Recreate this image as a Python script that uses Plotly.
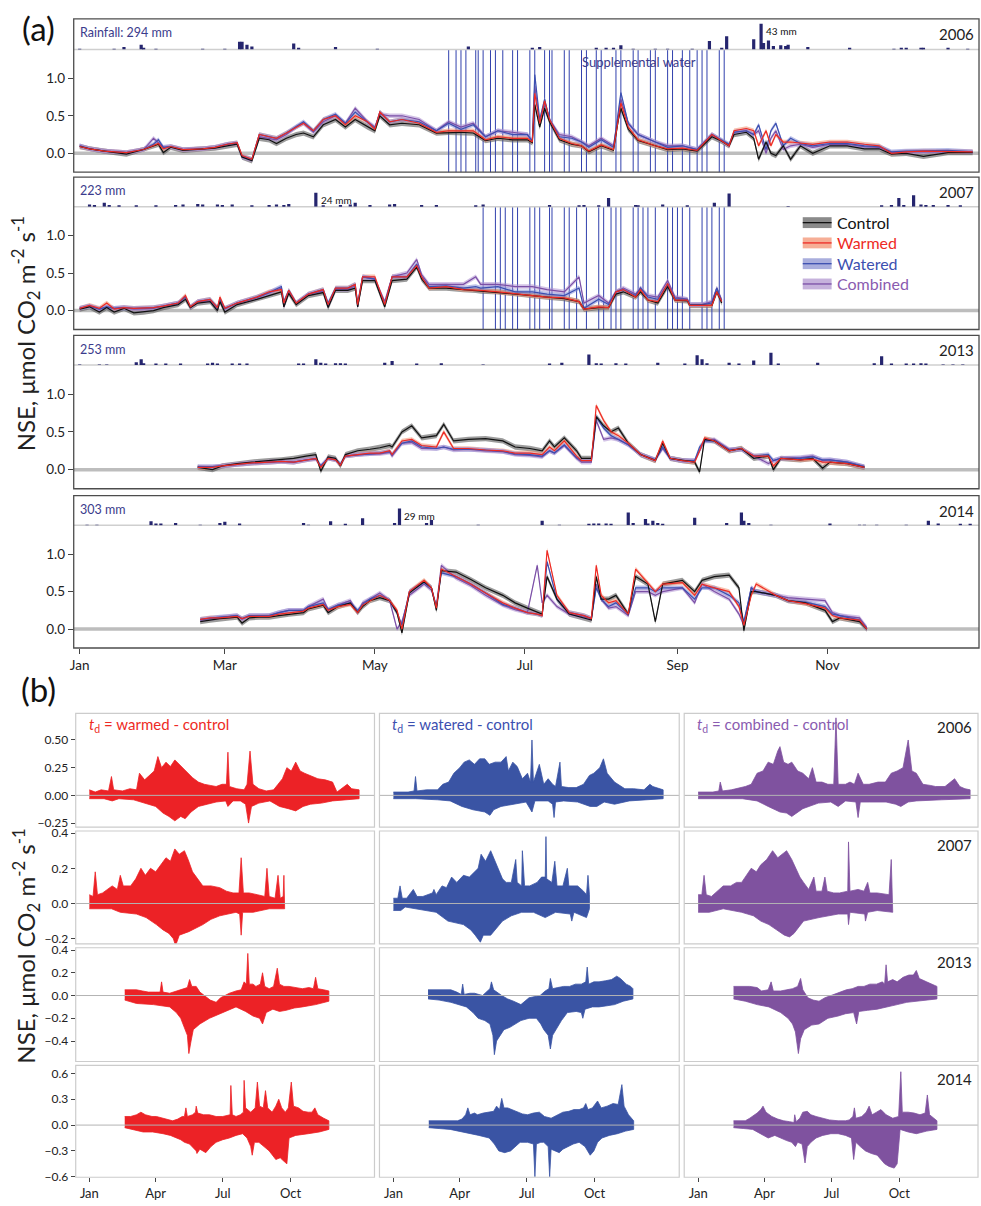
import plotly.graph_objects as go

# ======================= DATA =======================
YEARS = ["2006", "2007", "2013", "2014"]
RAIN_TOTAL_LABELS = ["Rainfall: 294 mm", "223 mm", "253 mm", "303 mm"]
LABEL_PEAK = [True, True, False, True]
MONTH_TICKS_A = [0, 59, 120, 181, 243, 304]
MONTH_LABELS_A = ["Jan", "Mar", "May", "Jul", "Sep", "Nov"]
MONTH_TICKS_B = [0, 90, 181, 273]
MONTH_LABELS_B = ["Jan", "Apr", "Jul", "Oct"]
TREATMENTS = ["Control", "Warmed", "Watered", "Combined"]
# standard-error half widths (NSE units) read from ribbon thickness
SE_CONTROL = 0.035
SE_WARMED = 0.03
SE_WATERED = 0.03
SE_COMBINED = 0.03

# ---- panel (a): day-of-year and NSE by treatment ----
DAYS_2006 = [0, 4, 10, 19, 26, 30, 32, 34, 37, 42, 50, 55, 60, 64, 66, 70, 73, 77, 80, 84, 88, 91, 95, 99, 104,
             108, 112, 117, 120, 122, 126, 131, 138, 145, 150, 155, 160, 165, 170, 176, 182, 184, 185, 187, 189,
             191, 195, 200, 204, 207, 212, 217, 219, 220, 223, 227, 234, 239, 245, 251, 257, 261, 264, 266, 271,
             274, 276, 279, 281, 283, 286, 289, 293, 298, 305, 312, 319, 325, 330, 336, 343, 353, 363]
CONTROL_2006 = [0.09, 0.06, 0.03, -0.01, 0.05, 0.10, 0.12, 0.01, 0.08, 0.04, 0.06, 0.07, 0.10, 0.12, -0.05,
                -0.10, 0.20, 0.18, 0.13, 0.20, 0.25, 0.27, 0.22, 0.38, 0.45, 0.35, 0.45, 0.35, 0.30, 0.50,
                0.38, 0.40, 0.38, 0.27, 0.28, 0.28, 0.27, 0.17, 0.20, 0.18, 0.18, 0.14, 0.65, 0.35, 0.60,
                0.42, 0.18, 0.12, 0.10, 0.02, 0.10, 0.04, 0.45, 0.60, 0.32, 0.17, 0.10, 0.05, 0.06, 0.03,
                0.22, 0.16, 0.10, 0.25, 0.28, 0.20, -0.08, 0.15, 0.00, -0.03, 0.10, -0.08, 0.10, 0.00, 0.10,
                0.10, 0.06, 0.06, -0.01, 0.00, -0.04, 0.01, 0.01]
WARMED_2006 = [0.09, 0.06, 0.03, 0.01, 0.05, 0.11, 0.13, 0.06, 0.09, 0.05, 0.06, 0.08, 0.12, 0.14, -0.03,
               -0.08, 0.25, 0.22, 0.20, 0.27, 0.35, 0.40, 0.30, 0.45, 0.50, 0.38, 0.50, 0.42, 0.32, 0.55,
               0.42, 0.45, 0.40, 0.28, 0.30, 0.30, 0.30, 0.18, 0.22, 0.20, 0.20, 0.15, 0.80, 0.40, 0.70,
               0.45, 0.20, 0.13, 0.10, 0.03, 0.11, 0.05, 0.50, 0.67, 0.35, 0.18, 0.10, 0.06, 0.07, 0.04,
               0.25, 0.17, 0.10, 0.30, 0.33, 0.30, 0.10, 0.30, 0.10, 0.25, 0.15, 0.15, 0.14, 0.12, 0.15,
               0.15, 0.12, 0.10, 0.00, 0.02, 0.03, 0.03, 0.02]
WATERED_2006 = [0.10, 0.06, 0.03, 0.01, 0.05, 0.12, 0.18, 0.08, 0.09, 0.05, 0.06, 0.08, 0.12, 0.14, -0.04,
                -0.08, 0.25, 0.22, 0.20, 0.27, 0.35, 0.42, 0.30, 0.45, 0.52, 0.40, 0.55, 0.42, 0.33, 0.55,
                0.42, 0.45, 0.42, 0.30, 0.40, 0.32, 0.38, 0.22, 0.30, 0.25, 0.25, 0.16, 1.05, 0.45, 0.72,
                0.45, 0.22, 0.20, 0.15, 0.08, 0.18, 0.08, 0.55, 0.81, 0.40, 0.25, 0.15, 0.08, 0.10, 0.05,
                0.25, 0.17, 0.12, 0.28, 0.30, 0.25, 0.38, 0.05, 0.30, 0.40, 0.10, 0.20, 0.13, 0.10, 0.13,
                0.13, 0.10, 0.09, 0.02, 0.03, 0.03, 0.04, 0.02]
COMBINED_2006 = [0.10, 0.06, 0.03, 0.01, 0.05, 0.20, 0.14, 0.08, 0.09, 0.05, 0.06, 0.08, 0.12, 0.13, -0.05,
                 -0.09, 0.22, 0.20, 0.18, 0.25, 0.35, 0.40, 0.28, 0.42, 0.50, 0.40, 0.60, 0.42, 0.35, 0.52,
                 0.50, 0.50, 0.45, 0.30, 0.42, 0.35, 0.40, 0.22, 0.30, 0.28, 0.25, 0.16, 0.90, 0.40, 0.68,
                 0.45, 0.25, 0.22, 0.15, 0.10, 0.20, 0.10, 0.50, 0.72, 0.40, 0.25, 0.15, 0.10, 0.10, 0.05,
                 0.25, 0.17, 0.10, 0.28, 0.30, 0.25, 0.30, 0.00, 0.20, 0.30, 0.05, 0.10, 0.12, 0.08, 0.12,
                 0.12, 0.09, 0.08, 0.01, 0.02, 0.02, 0.03, 0.02]

DAYS_2007 = [0, 4, 8, 11, 14, 18, 22, 26, 30, 34, 40, 43, 45, 48, 53, 56, 57, 59, 64, 72, 77, 82, 83, 85, 88,
             93, 99, 101, 104, 109, 112, 113, 115, 120, 124, 127, 133, 137, 139, 142, 149, 156, 161, 163, 170,
             177, 184, 190, 197, 203, 205, 211, 215, 218, 221, 226, 228, 231, 235, 239, 242, 247, 248, 253,
             257, 259, 261]
CONTROL_2007 = [0.02, 0.05, -0.02, 0.04, -0.02, 0.03, -0.03, -0.02, 0.00, 0.04, 0.08, 0.15, 0.04, 0.10, 0.12,
                0.00, 0.12, -0.02, 0.08, 0.15, 0.20, 0.25, 0.05, 0.23, 0.08, 0.20, 0.24, 0.04, 0.27, 0.27,
                0.30, 0.05, 0.40, 0.40, 0.05, 0.40, 0.42, 0.58, 0.42, 0.30, 0.30, 0.28, 0.27, 0.26, 0.25,
                0.22, 0.20, 0.18, 0.16, 0.12, 0.02, 0.04, 0.04, 0.22, 0.25, 0.18, 0.25, 0.14, 0.10, 0.32,
                0.14, 0.13, 0.07, 0.07, 0.07, 0.25, 0.10]
WARMED_2007 = [0.03, 0.07, 0.03, 0.10, 0.02, 0.04, 0.03, 0.03, 0.04, 0.06, 0.10, 0.20, 0.05, 0.12, 0.15,
               0.04, 0.18, 0.03, 0.10, 0.18, 0.25, 0.28, 0.10, 0.27, 0.10, 0.22, 0.28, 0.08, 0.30, 0.30,
               0.35, 0.08, 0.45, 0.45, 0.08, 0.45, 0.45, 0.60, 0.45, 0.30, 0.32, 0.28, 0.28, 0.27, 0.25,
               0.22, 0.20, 0.18, 0.17, 0.12, 0.02, 0.05, 0.04, 0.25, 0.28, 0.18, 0.28, 0.14, 0.12, 0.36,
               0.14, 0.14, 0.07, 0.07, 0.07, 0.25, 0.12]
WATERED_2007 = [0.03, 0.06, 0.02, 0.05, 0.03, 0.04, 0.03, 0.03, 0.04, 0.06, 0.10, 0.18, 0.05, 0.12, 0.15,
                0.04, 0.15, 0.03, 0.10, 0.18, 0.24, 0.32, 0.12, 0.27, 0.10, 0.22, 0.28, 0.10, 0.30, 0.30,
                0.35, 0.10, 0.45, 0.42, 0.08, 0.45, 0.45, 0.62, 0.45, 0.32, 0.33, 0.30, 0.32, 0.30, 0.32,
                0.25, 0.25, 0.22, 0.20, 0.30, 0.03, 0.15, 0.08, 0.25, 0.28, 0.20, 0.30, 0.18, 0.15, 0.35,
                0.16, 0.15, 0.08, 0.08, 0.10, 0.30, 0.12]
COMBINED_2007 = [0.03, 0.06, 0.02, 0.05, 0.03, 0.04, 0.02, 0.02, 0.03, 0.06, 0.10, 0.18, 0.04, 0.12, 0.13,
                 0.02, 0.15, 0.02, 0.10, 0.17, 0.24, 0.30, 0.05, 0.26, 0.10, 0.22, 0.26, 0.05, 0.28, 0.28,
                 0.33, 0.05, 0.45, 0.42, 0.12, 0.45, 0.50, 0.68, 0.48, 0.35, 0.35, 0.35, 0.45, 0.35, 0.35,
                 0.32, 0.32, 0.28, 0.25, 0.45, 0.10, 0.20, 0.10, 0.25, 0.30, 0.22, 0.30, 0.20, 0.18, 0.40,
                 0.18, 0.15, 0.08, 0.08, 0.12, 0.30, 0.14]

DAYS_2013 = [48, 54, 58, 64, 70, 77, 82, 87, 92, 96, 98, 101, 104, 106, 108, 113, 118, 122, 126, 127, 131, 135,
             139, 145, 148, 152, 158, 165, 172, 177, 183, 188, 191, 193, 197, 202, 204, 208, 210, 213, 216, 219,
             223, 228, 234, 237, 240, 245, 250, 252, 254, 258, 264, 269, 274, 280, 282, 285, 293, 298, 302,
             305, 312, 319]
CONTROL_2013 = [0.03, 0.00, 0.05, 0.08, 0.10, 0.12, 0.13, 0.15, 0.18, 0.20, -0.02, 0.17, 0.15, 0.05, 0.20,
                0.25, 0.27, 0.29, 0.32, 0.30, 0.50, 0.58, 0.42, 0.45, 0.60, 0.38, 0.40, 0.41, 0.38, 0.30,
                0.28, 0.25, 0.38, 0.30, 0.42, 0.25, 0.15, 0.15, 0.70, 0.58, 0.50, 0.55, 0.35, 0.20, 0.12,
                0.35, 0.15, 0.12, 0.10, -0.03, 0.40, 0.38, 0.25, 0.28, 0.15, 0.18, 0.00, 0.15, 0.13, 0.15,
                0.02, 0.10, 0.08, 0.03]
WARMED_2013 = [0.03, 0.03, 0.05, 0.07, 0.09, 0.10, 0.11, 0.10, 0.13, 0.15, 0.03, 0.15, 0.13, 0.06, 0.18,
               0.20, 0.22, 0.22, 0.25, 0.20, 0.38, 0.40, 0.32, 0.30, 0.50, 0.28, 0.28, 0.26, 0.25, 0.22,
               0.22, 0.20, 0.30, 0.25, 0.38, 0.18, 0.12, 0.12, 0.85, 0.65, 0.50, 0.45, 0.35, 0.20, 0.12,
               0.38, 0.15, 0.12, 0.10, 0.25, 0.42, 0.38, 0.25, 0.28, 0.18, 0.18, 0.05, 0.15, 0.13, 0.14,
               0.10, 0.10, 0.08, 0.03]
WATERED_2013 = [0.04, 0.04, 0.05, 0.07, 0.09, 0.10, 0.11, 0.10, 0.13, 0.15, 0.05, 0.15, 0.13, 0.07, 0.18,
                0.20, 0.21, 0.22, 0.24, 0.20, 0.35, 0.38, 0.30, 0.28, 0.30, 0.27, 0.27, 0.26, 0.24, 0.21,
                0.20, 0.18, 0.25, 0.22, 0.33, 0.16, 0.12, 0.12, 0.70, 0.55, 0.45, 0.40, 0.33, 0.20, 0.13,
                0.30, 0.15, 0.12, 0.12, 0.30, 0.38, 0.38, 0.26, 0.27, 0.18, 0.20, 0.12, 0.15, 0.15, 0.17,
                0.13, 0.13, 0.10, 0.04]
COMBINED_2013 = [0.04, 0.04, 0.05, 0.07, 0.09, 0.10, 0.11, 0.10, 0.13, 0.14, 0.05, 0.15, 0.13, 0.07, 0.18,
                 0.20, 0.21, 0.21, 0.23, 0.18, 0.35, 0.36, 0.28, 0.28, 0.30, 0.26, 0.27, 0.25, 0.24, 0.20,
                 0.19, 0.17, 0.25, 0.22, 0.32, 0.15, 0.10, 0.10, 0.65, 0.40, 0.42, 0.40, 0.33, 0.20, 0.13,
                 0.28, 0.15, 0.12, 0.12, 0.25, 0.38, 0.40, 0.27, 0.27, 0.18, 0.08, 0.12, 0.15, 0.16, 0.18,
                 0.12, 0.13, 0.10, 0.04]

DAYS_2014 = [49, 53, 57, 61, 64, 66, 69, 73, 77, 81, 85, 91, 93, 99, 101, 105, 110, 113, 115, 118, 122, 126,
             129, 131, 134, 140, 143, 145, 147, 153, 159, 165, 172, 177, 182, 186, 188, 190, 194, 199, 205, 208,
             210, 212, 215, 218, 223, 226, 231, 234, 237, 245, 250, 253, 258, 264, 268, 270, 273, 275, 283,
             288, 295, 303, 306, 309, 317, 320]
CONTROL_2014 = [0.10, 0.12, 0.14, 0.15, 0.16, 0.08, 0.15, 0.16, 0.16, 0.18, 0.20, 0.22, 0.27, 0.32, 0.22,
                0.30, 0.35, 0.22, 0.30, 0.38, 0.42, 0.38, 0.22, -0.05, 0.48, 0.63, 0.55, 0.25, 0.78, 0.76,
                0.66, 0.55, 0.45, 0.35, 0.28, 0.22, 0.20, 0.70, 0.40, 0.20, 0.15, 0.12, 0.70, 0.40, 0.40,
                0.45, 0.20, 0.70, 0.60, 0.10, 0.60, 0.65, 0.50, 0.65, 0.70, 0.72, 0.55, -0.02, 0.50, 0.50,
                0.45, 0.38, 0.35, 0.25, 0.10, 0.15, 0.10, 0.00]
WARMED_2014 = [0.13, 0.15, 0.15, 0.16, 0.17, 0.14, 0.17, 0.17, 0.17, 0.20, 0.22, 0.24, 0.28, 0.33, 0.25,
               0.30, 0.33, 0.22, 0.32, 0.38, 0.45, 0.38, 0.25, 0.00, 0.50, 0.65, 0.55, 0.28, 0.80, 0.70,
               0.60, 0.48, 0.35, 0.28, 0.22, 0.20, 0.18, 1.05, 0.45, 0.22, 0.18, 0.14, 0.85, 0.45, 0.35,
               0.38, 0.20, 0.80, 0.62, 0.50, 0.60, 0.62, 0.45, 0.60, 0.55, 0.50, 0.30, 0.05, 0.45, 0.60,
               0.45, 0.38, 0.34, 0.28, 0.18, 0.15, 0.12, 0.00]
WATERED_2014 = [0.13, 0.15, 0.16, 0.17, 0.18, 0.14, 0.18, 0.18, 0.18, 0.22, 0.25, 0.25, 0.30, 0.35, 0.26,
                0.32, 0.35, 0.25, 0.33, 0.40, 0.45, 0.38, 0.22, 0.05, 0.50, 0.62, 0.55, 0.30, 0.75, 0.70,
                0.60, 0.48, 0.33, 0.28, 0.22, 0.20, 0.18, 0.90, 0.40, 0.22, 0.18, 0.14, 0.55, 0.40, 0.30,
                0.35, 0.20, 0.55, 0.55, 0.50, 0.55, 0.55, 0.40, 0.55, 0.55, 0.45, 0.35, 0.10, 0.55, 0.50,
                0.45, 0.38, 0.36, 0.30, 0.20, 0.18, 0.12, 0.00]
COMBINED_2014 = [0.12, 0.14, 0.16, 0.17, 0.18, 0.13, 0.18, 0.18, 0.18, 0.22, 0.25, 0.25, 0.30, 0.40, 0.26,
                 0.32, 0.38, 0.22, 0.35, 0.40, 0.48, 0.38, 0.00, 0.10, 0.45, 0.60, 0.52, 0.30, 0.85, 0.68,
                 0.58, 0.45, 0.32, 0.26, 0.22, 0.85, 0.35, 0.45, 0.30, 0.20, 0.16, 0.14, 0.60, 0.40, 0.28,
                 0.30, 0.18, 0.50, 0.50, 0.45, 0.50, 0.55, 0.35, 0.60, 0.50, 0.40, 0.20, 0.05, 0.55, 0.50,
                 0.45, 0.42, 0.40, 0.38, 0.22, 0.18, 0.15, 0.02]

# ---- daily rainfall (day-of-year, mm) ----
RAIN_DAY_2006 = [0, 14, 18, 25, 26, 31, 50, 59, 65, 66, 68, 70, 87, 89, 104, 121, 158, 184, 187, 210, 214, 217,
                 220, 225, 234, 239, 249, 256, 261, 263, 274, 277, 278, 280, 282, 285, 287, 288, 296, 313, 331,
                 334, 336, 342, 343, 353, 361]
RAIN_MM_2006 = [1, 1, 4, 8, 2, 1, 1, 1, 13, 13, 8, 5, 10, 2, 4, 1, 5, 2, 4, 3, 2, 3, 7, 1, 1, 1, 1, 14, 2, 22,
                17, 43, 11, 15, 6, 7, 6, 8, 4, 2, 1, 2, 2, 3, 2, 2, 1]
RAIN_DAY_2007 = [4, 6, 10, 12, 16, 23, 31, 39, 42, 48, 50, 56, 58, 62, 70, 77, 80, 83, 85, 96, 99, 106, 110, 112,
                 118, 126, 128, 139, 145, 161, 164, 191, 203, 205, 211, 215, 226, 227, 237, 247, 258, 264, 288,
                 326, 330, 333, 335, 339, 342, 344, 347, 353, 358]
RAIN_MM_2007 = [4, 3, 7, 3, 2, 2, 2, 3, 4, 5, 4, 4, 3, 4, 2, 3, 4, 3, 5, 24, 2, 3, 4, 7, 3, 4, 5, 3, 3, 2, 4,
                3, 2, 3, 2, 15, 3, 2, 4, 2, 7, 23, 1, 2, 3, 15, 3, 20, 4, 3, 3, 3, 2]
RAIN_DAY_2013 = [0, 8, 11, 23, 25, 26, 31, 35, 41, 52, 54, 56, 62, 65, 68, 89, 91, 96, 98, 100, 104, 106, 108,
                 124, 127, 137, 147, 164, 191, 196, 207, 210, 212, 218, 222, 235, 246, 251, 253, 255, 264, 268,
                 274, 281, 284, 300, 323, 326, 330, 336, 339, 342, 344, 351, 355, 359]
RAIN_MM_2013 = [1, 1, 1, 5, 10, 3, 2, 2, 2, 2, 4, 2, 2, 2, 2, 2, 2, 10, 4, 2, 3, 3, 2, 4, 7, 2, 3, 1, 2, 4, 18,
                3, 2, 3, 2, 4, 2, 17, 10, 3, 4, 2, 8, 21, 2, 4, 3, 15, 2, 2, 2, 3, 2, 1, 1, 1]
RAIN_DAY_2014 = [3, 7, 29, 31, 33, 39, 49, 57, 59, 65, 91, 93, 102, 108, 115, 128, 130, 141, 143, 162, 188, 195,
                 207, 209, 211, 214, 216, 223, 225, 230, 231, 233, 235, 237, 250, 263, 269, 270, 272, 281, 305,
                 317, 319, 324, 336, 345, 349, 358, 362]
RAIN_MM_2014 = [1, 1, 7, 3, 3, 4, 1, 4, 6, 3, 4, 1, 7, 2, 12, 4, 29, 4, 9, 1, 8, 1, 2, 3, 3, 3, 2, 22, 4, 11,
                3, 8, 4, 2, 13, 4, 22, 8, 4, 1, 3, 1, 1, 1, 1, 8, 3, 2, 2]

# ---- supplemental water application days ----
WATER_DAYS_2006 = [150, 153, 155, 157, 161, 162, 164, 167, 169, 172, 176, 178, 183, 185, 189, 191, 192, 197, 199,
                   204, 206, 210, 212, 218, 220, 225, 227, 232, 234, 239, 241, 245, 248, 251, 253, 255, 260, 262]
WATER_DAYS_2007 = [164, 169, 171, 173, 176, 178, 183, 185, 187, 191, 192, 197, 199, 202, 206, 211, 213, 216, 218,
                   220, 225, 227, 229, 231, 234, 239, 241, 243, 245, 248, 253, 255, 257, 260, 262]

# ---- panel (b): treatment - control envelopes, (day, value) ----
B2006_WARMED_UP = [(0, 0.05), (8, 0.03), (16, 0.05), (26, 0.04), (30, 0.17), (33, 0.05), (45, 0.04), (55, 0.06),
                   (64, 0.05), (68, 0.2), (75, 0.14), (82, 0.18), (88, 0.22), (93, 0.35), (98, 0.25), (104, 0.3),
                   (110, 0.26), (116, 0.32), (122, 0.28), (128, 0.24), (134, 0.2), (140, 0.16), (148, 0.12),
                   (156, 0.1), (164, 0.09), (172, 0.08), (180, 0.1), (186, 0.1), (188, 0.39), (190, 0.08),
                   (200, 0.06), (210, 0.05), (214, 0.1), (218, 0.4), (222, 0.1), (230, 0.06), (240, 0.04),
                   (250, 0.05), (256, 0.1), (262, 0.15), (268, 0.25), (274, 0.22), (280, 0.3), (286, 0.22),
                   (292, 0.2), (300, 0.18), (310, 0.15), (320, 0.14), (330, 0.12), (336, 0.03), (342, 0.06),
                   (350, 0.1), (356, 0.06), (366, 0.05)]
B2006_WARMED_LO = [(0, -0.03), (20, -0.03), (31, -0.05), (40, -0.03), (60, -0.04), (70, -0.06), (80, -0.08),
                   (90, -0.1), (100, -0.16), (108, -0.19), (116, -0.23), (124, -0.19), (130, -0.21), (138, -0.15),
                   (148, -0.1), (160, -0.08), (172, -0.06), (185, -0.05), (188, -0.1), (195, -0.05), (205, -0.05),
                   (212, -0.08), (216, -0.25), (220, -0.1), (230, -0.07), (245, -0.05), (258, -0.1), (270, -0.12),
                   (280, -0.14), (290, -0.1), (300, -0.08), (315, -0.07), (330, -0.05), (345, -0.04), (366, -0.03)]
B2006_WATERED_UP = [(0, 0.03), (20, 0.03), (28, 0.04), (30, 0.17), (32, 0.04), (45, 0.05), (60, 0.05), (67, 0.1),
                    (75, 0.12), (82, 0.2), (90, 0.25), (96, 0.3), (103, 0.32), (110, 0.28), (117, 0.33),
                    (124, 0.33), (130, 0.28), (138, 0.3), (146, 0.3), (153, 0.35), (156, 0.22), (162, 0.3),
                    (168, 0.26), (175, 0.15), (182, 0.2), (186, 0.12), (188, 0.5), (190, 0.12), (198, 0.28),
                    (204, 0.1), (210, 0.15), (216, 0.1), (220, 0.08), (226, 0.3), (228, 0.08), (238, 0.07),
                    (248, 0.07), (258, 0.1), (266, 0.18), (272, 0.2), (280, 0.25), (285, 0.33), (290, 0.2),
                    (300, 0.12), (314, 0.06), (326, 0.06), (340, 0.05), (348, 0.1), (352, 0.08), (360, 0.06),
                    (366, 0.05)]
B2006_WATERED_LO = [(0, -0.03), (30, -0.03), (60, -0.04), (77, -0.05), (93, -0.1), (108, -0.13), (124, -0.15),
                    (131, -0.18), (136, -0.13), (146, -0.1), (162, -0.08), (180, -0.06), (188, -0.15),
                    (192, -0.05), (210, -0.05), (216, -0.08), (218, -0.2), (220, -0.06), (231, -0.05),
                    (250, -0.06), (267, -0.1), (276, -0.1), (286, -0.06), (300, -0.08), (320, -0.05),
                    (340, -0.04), (366, -0.03)]
B2006_COMBINED_UP = [(0, 0.03), (20, 0.03), (28, 0.04), (30, 0.12), (33, 0.04), (45, 0.05), (64, 0.08),
                     (72, 0.1), (80, 0.2), (88, 0.22), (95, 0.3), (102, 0.28), (108, 0.4), (111, 0.44),
                     (116, 0.3), (122, 0.28), (127, 0.3), (135, 0.22), (142, 0.2), (150, 0.15), (155, 0.25),
                     (160, 0.12), (168, 0.12), (176, 0.1), (184, 0.1), (187, 0.7), (190, 0.1), (200, 0.1),
                     (206, 0.12), (212, 0.1), (217, 0.2), (224, 0.1), (232, 0.1), (244, 0.12), (254, 0.12),
                     (262, 0.2), (270, 0.22), (278, 0.25), (285, 0.5), (290, 0.22), (296, 0.2), (305, 0.1),
                     (315, 0.09), (322, 0.08), (335, 0.08), (343, 0.12), (348, 0.15), (355, 0.08), (362, 0.06),
                     (369, 0.05)]
B2006_COMBINED_LO = [(0, -0.03), (30, -0.03), (60, -0.03), (80, -0.05), (95, -0.1), (111, -0.15), (120, -0.16),
                     (127, -0.19), (135, -0.15), (142, -0.12), (163, -0.07), (180, -0.06), (190, -0.1),
                     (200, -0.05), (214, -0.06), (217, -0.2), (220, -0.06), (233, -0.06), (255, -0.06),
                     (268, -0.08), (275, -0.1), (285, -0.06), (296, -0.05), (330, -0.04), (369, -0.03)]

B2007_WARMED_UP = [(0, 0.05), (5, 0.04), (8, 0.18), (11, 0.05), (18, 0.06), (25, 0.08), (31, 0.1), (38, 0.08),
                   (42, 0.16), (46, 0.1), (56, 0.1), (63, 0.14), (70, 0.2), (76, 0.16), (83, 0.2), (90, 0.18),
                   (97, 0.22), (104, 0.26), (110, 0.24), (116, 0.31), (122, 0.28), (129, 0.3), (134, 0.25),
                   (140, 0.18), (147, 0.14), (154, 0.1), (165, 0.1), (177, 0.09), (186, 0.07), (195, 0.06),
                   (203, 0.06), (206, 0.26), (209, 0.06), (217, 0.06), (228, 0.05), (238, 0.04), (241, 0.2),
                   (244, 0.04), (252, 0.03), (256, 0.16), (259, 0.03), (263, 0.04), (264, 0.16), (265, 0.03)]
B2007_WARMED_LO = [(0, -0.03), (30, -0.03), (42, -0.05), (64, -0.06), (77, -0.08), (91, -0.12), (100, -0.15),
                   (108, -0.17), (114, -0.2), (117, -0.24), (122, -0.18), (135, -0.16), (145, -0.14),
                   (154, -0.12), (165, -0.09), (177, -0.07), (199, -0.05), (204, -0.06), (206, -0.18),
                   (208, -0.05), (222, -0.05), (244, -0.03), (265, -0.03)]
B2007_WATERED_UP = [(0, 0.03), (6, 0.03), (9, 0.1), (12, 0.03), (18, 0.03), (27, 0.08), (32, 0.04), (40, 0.04),
                    (53, 0.06), (55, 0.08), (58, 0.05), (66, 0.1), (72, 0.09), (79, 0.15), (86, 0.12),
                    (95, 0.16), (103, 0.15), (111, 0.18), (115, 0.2), (119, 0.28), (125, 0.24), (132, 0.3),
                    (137, 0.25), (143, 0.2), (148, 0.14), (153, 0.12), (160, 0.12), (166, 0.25), (168, 0.12),
                    (174, 0.1), (175, 0.3), (178, 0.1), (185, 0.1), (195, 0.12), (201, 0.15), (206, 0.15),
                    (207, 0.38), (208, 0.14), (215, 0.12), (219, 0.24), (222, 0.1), (230, 0.1), (236, 0.2),
                    (238, 0.1), (250, 0.1), (258, 0.07), (262, 0.05), (264, 0.16), (266, 0.05)]
B2007_WATERED_LO = [(0, -0.04), (10, -0.04), (16, -0.02), (30, -0.03), (42, -0.04), (58, -0.05), (74, -0.1),
                    (95, -0.12), (105, -0.15), (111, -0.18), (118, -0.22), (122, -0.18), (132, -0.18),
                    (140, -0.14), (148, -0.1), (160, -0.07), (174, -0.05), (190, -0.05), (206, -0.08),
                    (220, -0.05), (240, -0.06), (242, -0.1), (245, -0.05), (262, -0.08), (266, -0.03)]
B2007_COMBINED_UP = [(0, 0.05), (5, 0.05), (8, 0.16), (11, 0.05), (18, 0.04), (26, 0.07), (34, 0.1), (44, 0.1),
                     (52, 0.12), (59, 0.12), (66, 0.16), (72, 0.2), (79, 0.18), (85, 0.22), (93, 0.25),
                     (101, 0.3), (108, 0.26), (114, 0.28), (120, 0.3), (127, 0.25), (133, 0.2), (138, 0.15),
                     (143, 0.12), (150, 0.08), (157, 0.15), (160, 0.07), (168, 0.07), (172, 0.15), (175, 0.07),
                     (184, 0.06), (192, 0.06), (200, 0.07), (203, 0.07), (204, 0.35), (206, 0.07), (217, 0.08),
                     (225, 0.07), (230, 0.12), (233, 0.06), (243, 0.06), (255, 0.05), (259, 0.05), (262, 0.25),
                     (264, 0.05)]
B2007_COMBINED_LO = [(0, -0.05), (15, -0.05), (34, -0.03), (59, -0.05), (75, -0.07), (85, -0.1), (96, -0.12),
                     (106, -0.15), (117, -0.18), (124, -0.19), (130, -0.17), (143, -0.1), (164, -0.08),
                     (190, -0.06), (203, -0.06), (204, -0.12), (206, -0.05), (226, -0.06), (227, -0.1),
                     (230, -0.05), (243, -0.04), (264, -0.05)]

B2013_WARMED_UP = [(48, 0.05), (56, 0.05), (64, 0.05), (72, 0.04), (80, 0.03), (90, 0.03), (96, 0.03), (98, 0.12),
                   (100, 0.03), (109, 0.02), (118, 0.04), (127, 0.06), (133, 0.07), (136, 0.14), (139, 0.08),
                   (145, 0.08), (150, 0.03), (156, 0.0), (164, -0.04), (172, -0.06), (178, -0.02), (184, 0.0),
                   (190, 0.02), (199, 0.04), (206, 0.05), (210, 0.12), (213, 0.1), (215, 0.37), (217, 0.1),
                   (222, 0.1), (226, 0.08), (232, 0.1), (235, 0.2), (238, 0.08), (244, 0.06), (250, 0.08),
                   (255, 0.24), (258, 0.1), (264, 0.08), (271, 0.08), (280, 0.07), (289, 0.06), (298, 0.07),
                   (304, 0.06), (307, 0.16), (310, 0.06), (318, 0.05), (325, 0.04)]
B2013_WARMED_LO = [(48, -0.04), (64, -0.07), (87, -0.08), (109, -0.1), (118, -0.15), (124, -0.2), (129, -0.28),
                   (133, -0.35), (135, -0.51), (138, -0.4), (141, -0.3), (150, -0.25), (163, -0.2), (181, -0.15),
                   (199, -0.1), (212, -0.14), (222, -0.18), (231, -0.2), (235, -0.25), (240, -0.15), (249, -0.12),
                   (258, -0.14), (267, -0.13), (278, -0.11), (289, -0.1), (307, -0.08), (325, -0.05)]
B2013_WATERED_UP = [(47, 0.05), (60, 0.05), (70, 0.05), (78, 0.05), (86, 0.03), (92, 0.01), (94, 0.1), (96, 0.01),
                    (104, 0.02), (110, 0.02), (121, 0.0), (128, 0.04), (131, 0.06), (133, 0.12), (136, 0.05),
                    (147, 0.0), (155, -0.03), (163, -0.05), (173, -0.08), (184, -0.02), (192, -0.01), (199, 0.0),
                    (206, 0.04), (211, 0.06), (213, 0.15), (216, 0.06), (223, 0.07), (231, 0.08), (239, 0.08),
                    (247, 0.1), (255, 0.1), (261, 0.12), (263, 0.25), (265, 0.1), (272, 0.12), (279, 0.12),
                    (288, 0.13), (296, 0.14), (303, 0.17), (308, 0.15), (316, 0.1), (322, 0.08), (325, 0.06)]
B2013_WATERED_LO = [(47, -0.03), (62, -0.04), (78, -0.06), (90, -0.08), (99, -0.1), (108, -0.15), (115, -0.2),
                    (124, -0.22), (131, -0.25), (135, -0.35), (137, -0.52), (140, -0.4), (145, -0.35), (150, -0.3),
                    (158, -0.28), (166, -0.25), (173, -0.22), (184, -0.2), (194, -0.2), (200, -0.25), (204, -0.3),
                    (210, -0.35), (213, -0.47), (216, -0.35), (221, -0.3), (228, -0.22), (236, -0.15),
                    (248, -0.14), (255, -0.15), (257, -0.2), (260, -0.12), (270, -0.1), (279, -0.1), (290, -0.09),
                    (300, -0.08), (312, -0.05), (325, -0.03)]
B2013_COMBINED_UP = [(48, 0.08), (60, 0.08), (70, 0.08), (80, 0.07), (86, 0.04), (95, 0.05), (99, 0.12),
                     (102, 0.04), (112, 0.04), (120, 0.05), (128, 0.06), (135, 0.08), (139, 0.15), (142, 0.05),
                     (149, -0.02), (156, -0.04), (164, -0.05), (172, -0.02), (180, 0.0), (190, 0.02), (201, 0.05),
                     (209, 0.06), (217, 0.08), (225, 0.08), (233, 0.1), (242, 0.1), (250, 0.12), (253, 0.1),
                     (255, 0.27), (257, 0.12), (264, 0.14), (270, 0.12), (278, 0.16), (286, 0.18), (292, 0.18),
                     (296, 0.22), (300, 0.15), (310, 0.12), (318, 0.1), (324, 0.08)]
B2013_COMBINED_LO = [(48, -0.03), (64, -0.05), (80, -0.08), (96, -0.1), (112, -0.15), (122, -0.2), (128, -0.25),
                     (132, -0.32), (136, -0.51), (139, -0.38), (144, -0.3), (154, -0.26), (164, -0.25),
                     (176, -0.2), (190, -0.18), (200, -0.16), (211, -0.15), (215, -0.25), (218, -0.14),
                     (230, -0.13), (243, -0.12), (256, -0.1), (270, -0.08), (283, -0.06), (296, -0.05),
                     (324, -0.03)]

B2014_WARMED_UP = [(48, 0.1), (56, 0.1), (64, 0.12), (70, 0.15), (76, 0.12), (85, 0.1), (91, 0.1), (100, 0.08),
                   (106, 0.06), (113, 0.05), (120, 0.07), (126, 0.1), (129, 0.1), (131, 0.2), (133, 0.1),
                   (140, 0.12), (144, 0.15), (145, 0.22), (147, 0.14), (155, 0.12), (163, 0.12), (172, 0.1),
                   (181, 0.1), (188, 0.12), (191, 0.12), (192, 0.46), (194, 0.12), (199, 0.1), (205, 0.12),
                   (209, 0.15), (210, 0.52), (212, 0.2), (219, 0.15), (225, 0.2), (228, 0.5), (231, 0.22),
                   (236, 0.2), (239, 0.4), (242, 0.2), (248, 0.15), (253, 0.22), (257, 0.3), (261, 0.2),
                   (266, 0.15), (270, 0.2), (274, 0.5), (277, 0.22), (284, 0.2), (290, 0.16), (297, 0.15),
                   (302, 0.15), (306, 0.2), (310, 0.12), (318, 0.08), (325, 0.05)]
B2014_WARMED_LO = [(48, -0.03), (60, -0.05), (73, -0.08), (86, -0.08), (100, -0.1), (110, -0.12), (118, -0.15),
                   (124, -0.17), (129, -0.2), (136, -0.22), (145, -0.3), (146, -0.33), (150, -0.28), (158, -0.32),
                   (165, -0.25), (172, -0.2), (181, -0.17), (190, -0.15), (199, -0.12), (208, -0.1), (214, -0.15),
                   (219, -0.25), (221, -0.35), (224, -0.2), (230, -0.2), (237, -0.25), (244, -0.3), (249, -0.35),
                   (253, -0.4), (259, -0.38), (264, -0.42), (268, -0.45), (271, -0.15), (280, -0.12),
                   (297, -0.1), (312, -0.08), (325, -0.05)]
B2014_WATERED_UP = [(48, 0.05), (60, 0.05), (75, 0.05), (87, 0.05), (93, 0.07), (98, 0.12), (101, 0.2),
                    (104, 0.12), (110, 0.14), (114, 0.12), (122, 0.14), (130, 0.15), (136, 0.16), (140, 0.22),
                    (144, 0.18), (147, 0.31), (150, 0.2), (155, 0.2), (161, 0.18), (168, 0.15), (175, 0.13),
                    (182, 0.12), (190, 0.14), (198, 0.15), (205, 0.1), (214, 0.08), (222, 0.12), (230, 0.15),
                    (238, 0.16), (245, 0.18), (252, 0.18), (258, 0.2), (261, 0.25), (264, 0.18), (270, 0.2),
                    (277, 0.28), (282, 0.2), (290, 0.22), (298, 0.25), (305, 0.24), (310, 0.47), (313, 0.22),
                    (319, 0.12), (326, 0.05)]
B2014_WATERED_LO = [(48, -0.03), (62, -0.04), (77, -0.05), (90, -0.07), (104, -0.1), (116, -0.12), (130, -0.15),
                    (137, -0.22), (143, -0.3), (151, -0.32), (159, -0.3), (166, -0.25), (172, -0.2), (182, -0.2),
                    (190, -0.22), (192, -0.6), (194, -0.22), (200, -0.2), (204, -0.2), (210, -0.25), (212, -0.6),
                    (214, -0.28), (220, -0.3), (225, -0.32), (230, -0.28), (236, -0.25), (244, -0.22),
                    (252, -0.2), (260, -0.25), (267, -0.35), (272, -0.3), (277, -0.2), (283, -0.15),
                    (293, -0.12), (304, -0.1), (315, -0.07), (326, -0.05)]
B2014_COMBINED_UP = [(48, 0.05), (56, 0.05), (64, 0.05), (70, 0.08), (74, 0.1), (80, 0.14), (85, 0.18),
                     (88, 0.22), (92, 0.15), (100, 0.1), (108, 0.07), (116, 0.05), (124, 0.04), (130, 0.03),
                     (131, 0.12), (133, 0.04), (138, 0.08), (142, 0.15), (148, 0.16), (153, 0.12), (160, 0.1),
                     (169, 0.08), (178, 0.06), (190, 0.05), (200, 0.05), (205, 0.06), (210, 0.1), (212, 0.2),
                     (214, 0.08), (222, 0.1), (228, 0.15), (232, 0.22), (236, 0.12), (242, 0.15), (248, 0.18),
                     (255, 0.12), (264, 0.08), (272, 0.1), (275, 0.62), (277, 0.15), (285, 0.15), (293, 0.14),
                     (301, 0.12), (308, 0.14), (311, 0.35), (314, 0.12), (320, 0.08), (324, 0.05)]
B2014_COMBINED_LO = [(48, -0.03), (62, -0.04), (74, -0.05), (84, -0.1), (95, -0.15), (104, -0.12), (111, -0.15),
                     (120, -0.18), (127, -0.2), (132, -0.25), (135, -0.2), (141, -0.22), (145, -0.44),
                     (148, -0.25), (153, -0.2), (160, -0.15), (169, -0.12), (180, -0.1), (190, -0.1),
                     (200, -0.12), (208, -0.15), (211, -0.4), (214, -0.2), (220, -0.25), (227, -0.3),
                     (235, -0.33), (243, -0.35), (248, -0.4), (253, -0.45), (259, -0.48), (266, -0.5),
                     (270, -0.45), (274, -0.05), (285, -0.08), (296, -0.1), (310, -0.07), (324, -0.05)]

# ======================= STYLE / LAYOUT =======================
FONT = "Lato, 'Open Sans', 'DejaVu Sans', sans-serif"
W, H = 981, 1206
LINE_COLORS = {"Control": "#111111", "Warmed": "#ee2a24", "Watered": "#3c4fb0", "Combined": "#7b4fa6"}
BAND_COLORS = {"Control": "rgba(90,90,90,0.6)", "Warmed": "rgba(244,150,120,0.6)",
               "Watered": "rgba(130,140,215,0.55)", "Combined": "rgba(175,145,210,0.55)"}
LEGEND_BAND = {"Control": "#8a8a8a", "Warmed": "#f6ae96", "Watered": "#a9aedd", "Combined": "#c6b2dc"}
LEGEND_TEXT = {"Control": "#111111", "Warmed": "#ee2a24", "Watered": "#3c4fb0", "Combined": "#8a5bb0"}
SE = {"Control": SE_CONTROL, "Warmed": SE_WARMED, "Watered": SE_WATERED, "Combined": SE_COMBINED}
B_COLORS = {"Warmed": "#ec2226", "Watered": "#3a54a4", "Combined": "#7f529f"}
RAIN_COLOR = "#25256e"
WATER_LINE = "#3140ad"
NAVY_TEXT = "#3b3b8c"


def fx(px):
    return px / W


def fy(py):
    return 1 - py / H


A_LEFT, A_RIGHT = 70, 979
A_JAN_PX, A_PX_PER_DAY = 76, 2.47
A_XRANGE = [(A_LEFT - A_JAN_PX) / A_PX_PER_DAY, (A_RIGHT - A_JAN_PX) / A_PX_PER_DAY]
A_ROWS = [(13, 44, 168), (173, 203, 327), (333, 363, 488), (495, 525, 649)]  # top, rain base, bottom
A_YRANGE = [-0.252, 1.383]
RAIN_RANGE = [0, 51]

B_COLS = [(72, 372), (377, 678), (683, 978)]
B_JAN_PX = [85.7, 391, 697]
B_PX_PER_DAY = 0.74
B_ROWS = [(715, 830), (834, 948), (952, 1067), (1071, 1184)]
B_YRANGES = [[-0.286, 0.741], [-0.229, 0.412], [-0.58, 0.42], [-0.606, 0.693]]
B_TICKS = [[-0.25, 0, 0.25, 0.5], [-0.2, 0, 0.2, 0.4], [-0.4, -0.2, 0, 0.2, 0.4], [-0.6, -0.3, 0, 0.3, 0.6]]
B_TICKFMT = [".2f", ".1f", ".1f", ".1f"]

A_DATA = [
    (DAYS_2006, [CONTROL_2006, WARMED_2006, WATERED_2006, COMBINED_2006], RAIN_DAY_2006, RAIN_MM_2006, WATER_DAYS_2006),
    (DAYS_2007, [CONTROL_2007, WARMED_2007, WATERED_2007, COMBINED_2007], RAIN_DAY_2007, RAIN_MM_2007, WATER_DAYS_2007),
    (DAYS_2013, [CONTROL_2013, WARMED_2013, WATERED_2013, COMBINED_2013], RAIN_DAY_2013, RAIN_MM_2013, []),
    (DAYS_2014, [CONTROL_2014, WARMED_2014, WATERED_2014, COMBINED_2014], RAIN_DAY_2014, RAIN_MM_2014, []),
]
B_DATA = [
    [(B2006_WARMED_UP, B2006_WARMED_LO), (B2006_WATERED_UP, B2006_WATERED_LO), (B2006_COMBINED_UP, B2006_COMBINED_LO)],
    [(B2007_WARMED_UP, B2007_WARMED_LO), (B2007_WATERED_UP, B2007_WATERED_LO), (B2007_COMBINED_UP, B2007_COMBINED_LO)],
    [(B2013_WARMED_UP, B2013_WARMED_LO), (B2013_WATERED_UP, B2013_WATERED_LO), (B2013_COMBINED_UP, B2013_COMBINED_LO)],
    [(B2014_WARMED_UP, B2014_WARMED_LO), (B2014_WATERED_UP, B2014_WATERED_LO), (B2014_COMBINED_UP, B2014_COMBINED_LO)],
]
B_TREAT = ["Warmed", "Watered", "Combined"]
B_TITLES = ["warmed - control", "watered - control", "combined - control"]

for days, series, rd, rm, wd in A_DATA:
    for s in series:
        if len(s) != len(days):
            raise ValueError("length mismatch %d vs %d" % (len(s), len(days)))
    if len(rd) != len(rm):
        raise ValueError("rain length mismatch")

fig = go.Figure()
layout = {}
shapes = []
annotations = []

HIDDEN = dict(showgrid=False, zeroline=False, showline=False, showticklabels=False, ticks="", fixedrange=True)


def refs(k):
    return ("x" if k == 1 else "x%d" % k), ("y" if k == 1 else "y%d" % k)


def set_axes(k, xdom, ydom, xkw, ykw):
    xr, yr = refs(k)
    layout["xaxis" if k == 1 else "xaxis%d" % k] = dict(domain=xdom, anchor=yr, **xkw)
    layout["yaxis" if k == 1 else "yaxis%d" % k] = dict(domain=ydom, anchor=xr, **ykw)
    return xr, yr


def txt(x, y, text, size, color="#222", xanchor="center", yanchor="middle", angle=0, xref="paper", yref="paper"):
    annotations.append(dict(x=x, y=y, xref=xref, yref=yref, text=text, showarrow=False,
                            font=dict(size=size, color=color, family=FONT), xanchor=xanchor,
                            yanchor=yanchor, textangle=angle))


# ======================= PANEL (a) =======================
for i, (days, series, rdays, rmm, wdays) in enumerate(A_DATA):
    top, base, bot = A_ROWS[i]
    xdom = [fx(A_LEFT), fx(A_RIGHT)]
    xr_r, yr_r = set_axes(2 * i + 1, xdom, [fy(base), fy(top)],
                          dict(range=A_XRANGE, **HIDDEN), dict(range=RAIN_RANGE, **HIDDEN))
    last = i == len(A_DATA) - 1
    xkw = dict(range=A_XRANGE, showgrid=False, zeroline=False, showline=False, fixedrange=True)
    if last:
        xkw.update(tickvals=MONTH_TICKS_A, ticktext=MONTH_LABELS_A, ticks="outside", ticklen=5,
                   tickcolor="#444", tickfont=dict(size=13.5, family=FONT, color="#222"))
    else:
        xkw.update(showticklabels=False, ticks="")
    ykw = dict(range=A_YRANGE, tickvals=[0, 0.5, 1.0], tickformat=".1f", ticks="outside", ticklen=5,
               tickcolor="#444", showgrid=False, zeroline=False, showline=False, fixedrange=True,
               tickfont=dict(size=13.5, family=FONT, color="#222"))
    xr, yr = set_axes(2 * i + 2, xdom, [fy(bot), fy(base)], xkw, ykw)

    shapes.append(dict(type="line", xref="paper", yref=yr, x0=fx(A_LEFT), x1=fx(A_RIGHT), y0=0, y1=0,
                       line=dict(color="#bdbdbd", width=3.5), layer="below"))
    for d in wdays:
        shapes.append(dict(type="line", xref=xr, yref="paper", x0=d, x1=d, y0=fy(bot), y1=fy(base),
                           line=dict(color=WATER_LINE, width=1), layer="below"))
    shapes.append(dict(type="line", xref="paper", yref="paper", x0=fx(A_LEFT), x1=fx(A_RIGHT),
                       y0=fy(base), y1=fy(base), line=dict(color="#cfcfcf", width=1.5), layer="below"))
    fig.add_trace(go.Bar(x=rdays, y=rmm, width=1.3, marker=dict(color=RAIN_COLOR, line=dict(width=0)),
                         xaxis=xr_r, yaxis=yr_r, hoverinfo="skip"))
    for t, vals in zip(TREATMENTS, series):
        up = [v + SE[t] for v in vals]
        lo = [v - SE[t] for v in vals]
        fig.add_trace(go.Scatter(x=list(days) + list(days)[::-1], y=up + lo[::-1], fill="toself",
                                 fillcolor=BAND_COLORS[t], line=dict(width=0), mode="lines",
                                 xaxis=xr, yaxis=yr, hoverinfo="skip"))
    for t in ["Combined", "Watered", "Control", "Warmed"]:
        vals = series[TREATMENTS.index(t)]
        fig.add_trace(go.Scatter(x=days, y=vals, mode="lines", line=dict(color=LINE_COLORS[t], width=1.2),
                                 xaxis=xr, yaxis=yr, hoverinfo="skip"))
    shapes.append(dict(type="rect", xref="paper", yref="paper", x0=fx(A_LEFT), x1=fx(A_RIGHT),
                       y0=fy(bot), y1=fy(top), line=dict(color="#4d4d4d", width=1.3), layer="above"))
    txt(fx(A_LEFT + 4), fy(top + 14), RAIN_TOTAL_LABELS[i], 12.5, NAVY_TEXT, xanchor="left")
    txt(fx(A_RIGHT - 3), fy(top + 15), YEARS[i], 15, "#222", xanchor="right")
    if LABEL_PEAK[i]:
        pk = max(rmm)
        pd = rdays[rmm.index(pk)]
        txt(pd + 1.2, pk + 1.5, "%d mm" % pk, 10, "#111", xanchor="left", yanchor="top", xref=xr_r, yref=yr_r)
    if i == 0:
        txt(fx(638), fy(57), "Supplemental water", 13, NAVY_TEXT)
    if i == 1:
        for j, t in enumerate(TREATMENTS):
            cy = [219, 239.5, 260.5, 281][j]
            shapes.append(dict(type="rect", xref="paper", yref="paper", x0=fx(802), x1=fx(831),
                               y0=fy(cy + 5.5), y1=fy(cy - 5.5), fillcolor=LEGEND_BAND[t],
                               line=dict(width=0), layer="above"))
            shapes.append(dict(type="line", xref="paper", yref="paper", x0=fx(802), x1=fx(831),
                               y0=fy(cy), y1=fy(cy), line=dict(color=LINE_COLORS[t], width=1.3), layer="above"))
            txt(fx(834), fy(cy), t, 16, LEGEND_TEXT[t], xanchor="left")

txt(fx(35), fy(22), "(a)", 33, "#111")
txt(fx(22), fy(331), "NSE, \u03bcmol CO<sub>2</sub> m<sup>-2</sup> s<sup>-1</sup>", 24, "#222", angle=-90)

# ======================= PANEL (b) =======================
for r in range(4):
    rt, rb = B_ROWS[r]
    for c in range(3):
        cl, cr = B_COLS[c]
        k = 9 + r * 3 + c
        xrange_b = [(cl - B_JAN_PX[c]) / B_PX_PER_DAY, (cr - B_JAN_PX[c]) / B_PX_PER_DAY]
        xkw = dict(range=xrange_b, showgrid=False, zeroline=False, showline=False, fixedrange=True)
        if r == 3:
            xkw.update(tickvals=MONTH_TICKS_B, ticktext=MONTH_LABELS_B, ticks="outside", ticklen=4,
                       tickcolor="#444", tickfont=dict(size=13, family=FONT, color="#222"))
        else:
            xkw.update(showticklabels=False, ticks="")
        ykw = dict(range=B_YRANGES[r], showgrid=False, zeroline=False, showline=False, fixedrange=True)
        if c == 0:
            ykw.update(tickvals=B_TICKS[r], tickformat=B_TICKFMT[r], ticks="outside", ticklen=4,
                       tickcolor="#444", tickfont=dict(size=12, family=FONT, color="#222"))
        else:
            ykw.update(showticklabels=False, ticks="")
        xr, yr = set_axes(k, [fx(cl), fx(cr)], [fy(rb), fy(rt)], xkw, ykw)

        up, lo = B_DATA[r][c]
        t = B_TREAT[c]
        xs = [d for d, v in up] + [d for d, v in reversed(lo)]
        ys = [v for d, v in up] + [v for d, v in reversed(lo)]
        fig.add_trace(go.Scatter(x=xs, y=ys, fill="toself", fillcolor=B_COLORS[t], mode="lines",
                                 line=dict(color=B_COLORS[t], width=0.8), xaxis=xr, yaxis=yr,
                                 hoverinfo="skip"))
        shapes.append(dict(type="line", xref="paper", yref=yr, x0=fx(cl), x1=fx(cr), y0=0, y1=0,
                           line=dict(color="#b3b3b3", width=1), layer="above"))
        shapes.append(dict(type="rect", xref="paper", yref="paper", x0=fx(cl), x1=fx(cr), y0=fy(rb),
                           y1=fy(rt), line=dict(color="#cccccc", width=1.2), layer="above"))
        if r == 0:
            txt(fx(cl + 11), fy(rt + 12), "<i>t</i><sub>d</sub> = " + B_TITLES[c], 15,
                LEGEND_TEXT[t], xanchor="left")
        if c == 2:
            txt(fx(cr - 4), fy(rt + 14), YEARS[r], 15, "#222", xanchor="right")

txt(fx(35), fy(690), "(b)", 33, "#111")
txt(fx(22), fy(950), "NSE, \u03bcmol CO<sub>2</sub> m<sup>-2</sup> s<sup>-1</sup>", 24, "#222", angle=-90)

layout.update(width=W, height=H, margin=dict(l=0, r=0, t=0, b=0), paper_bgcolor="white",
              plot_bgcolor="rgba(0,0,0,0)", showlegend=False, font=dict(family=FONT, color="#222"),
              shapes=shapes, annotations=annotations, barmode="overlay")
fig.update_layout(**layout)
fig.write_html("out.html", config={"displayModeBar": False},
               post_script="document.body.style.margin='0';document.body.style.overflow='hidden';")
